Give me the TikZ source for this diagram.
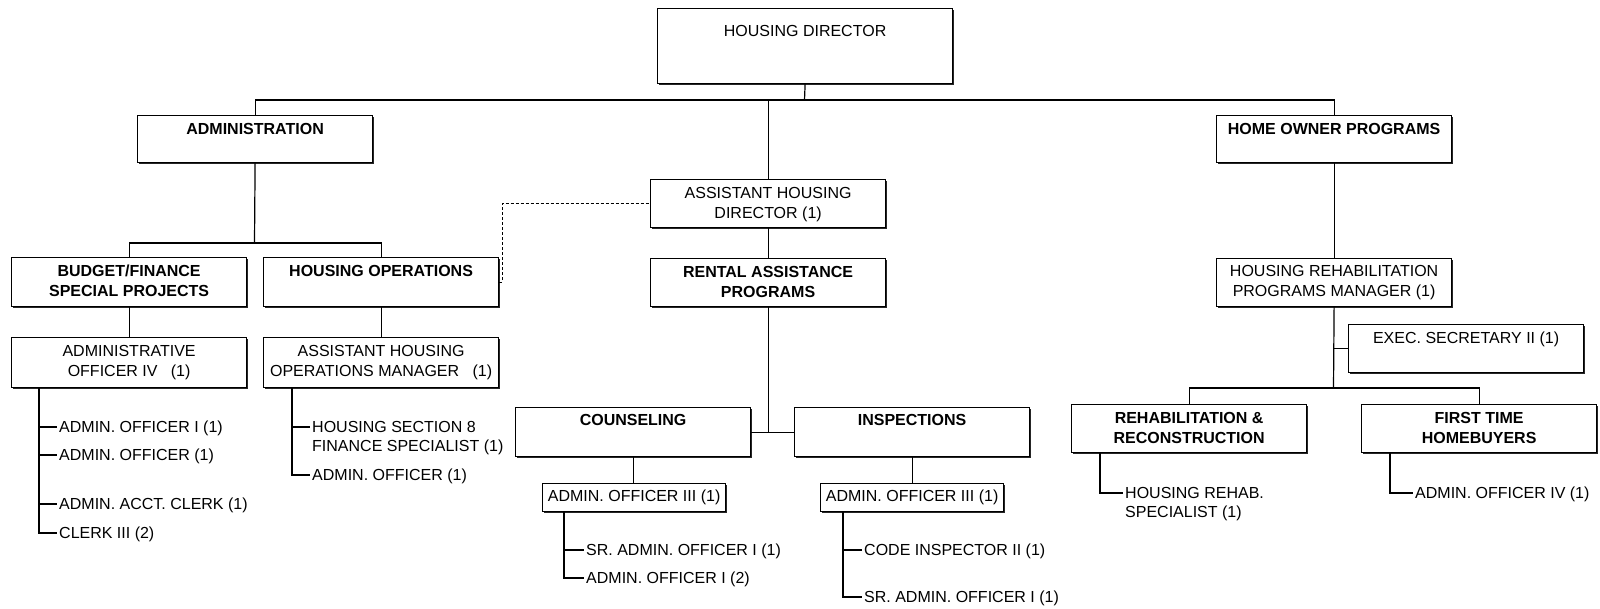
\documentclass[tikz,border=0pt]{standalone}
\usepackage{fontspec}
\setmainfont{Liberation Sans}
\usetikzlibrary{shadows}
\begin{document}
\begin{tikzpicture}[x=1pt,y=-1pt,
  box/.style={draw, line width=1.2pt, fill=white,
    drop shadow={shadow xshift=1.5pt,shadow yshift=-1.5pt,fill=black!85,opacity=1},
    inner xsep=0pt, inner ysep=0pt, text height=18.7pt, align=center,
    anchor=north west, minimum width=235pt, font=\fontsize{16}{20}\selectfont},
  bbox/.style={box, font=\fontsize{16}{20}\selectfont\bfseries},
  item/.style={inner xsep=2pt, inner ysep=0pt, anchor=base west, align=left,
    font=\fontsize{16}{18.5}\selectfont},
  conn/.style={line width=1.2pt},
  dconn/.style={line width=1pt, dash pattern=on 3pt off 2pt}
]
\useasboundingbox (0,0) rectangle (1600,608);

% boxes
\node[box, minimum width=295pt, text height=27.7pt, text depth=47.3pt] (dir) at (657,8) {HOUSING DIRECTOR};
\node[bbox, text depth=28.3pt] (admin) at (137,115) {ADMINISTRATION};
\node[bbox, text depth=28.3pt] (home) at (1216,115) {HOME OWNER PROGRAMS};
\node[box, text height=38.7pt, text depth=9.3pt] (asst) at (650,179) {ASSISTANT HOUSING\\DIRECTOR (1)};
\node[bbox, text height=38.7pt, text depth=10.3pt] (budget) at (11,257) {BUDGET/FINANCE\\SPECIAL PROJECTS};
\node[bbox, text depth=30.3pt] (hops) at (263,257) {HOUSING OPERATIONS};
\node[bbox, text height=38.7pt, text depth=9.3pt] (rental) at (650,258) {RENTAL ASSISTANCE\\PROGRAMS};
\node[box, text height=37.7pt, text depth=10.3pt] (hrpm) at (1216,258) {HOUSING REHABILITATION\\PROGRAMS MANAGER (1)};
\node[box, text height=38.7pt, text depth=11.3pt] (aoiv) at (11,337) {ADMINISTRATIVE\\OFFICER IV~~~(1)};
\node[box, text height=38.7pt, text depth=11.3pt] (ahom) at (263,337) {ASSISTANT HOUSING\\OPERATIONS MANAGER~~~(1)};
\node[box, text depth=29.3pt] (exec) at (1348,324) {EXEC. SECRETARY II (1)};
\node[bbox, text height=17.7pt, text depth=31.3pt] (couns) at (515,407) {COUNSELING};
\node[bbox, text height=17.7pt, text depth=31.3pt] (insp) at (794,407) {INSPECTIONS};
\node[bbox, text height=38.7pt, text depth=9.3pt] (rehab) at (1071,404) {REHABILITATION \&\\RECONSTRUCTION};
\node[bbox, text height=38.7pt, text depth=9.3pt] (ftime) at (1361,404) {FIRST TIME\\HOMEBUYERS};
\node[box, minimum width=183pt, text height=17.7pt, text depth=10.3pt] (aoc) at (542,483) {ADMIN. OFFICER III (1)};
\node[box, minimum width=183pt, text height=17.7pt, text depth=10.3pt] (aoi) at (820,483) {ADMIN. OFFICER III (1)};

% list items
\node[item] (a1) at (57,432.7) {ADMIN. OFFICER I (1)};
\node[item] (a2) at (57,460.7) {ADMIN. OFFICER (1)};
\node[item] (a3) at (57,509.7) {ADMIN. ACCT. CLERK (1)};
\node[item] (a4) at (57,538.7) {CLERK III (2)};
\node[item] (h1) at (310,451.2) {HOUSING SECTION 8\\FINANCE SPECIALIST (1)};
\node[item] (h2) at (310,480.7) {ADMIN. OFFICER (1)};
\node[item] (c1) at (584,555.7) {SR. ADMIN. OFFICER I (1)};
\node[item] (c2) at (584,583.7) {ADMIN. OFFICER I (2)};
\node[item] (i1) at (862,555.7) {CODE INSPECTOR II (1)};
\node[item] (i2) at (862,602.7) {SR. ADMIN. OFFICER I (1)};
\node[item] (r1) at (1123,517.2) {HOUSING REHAB.\\SPECIALIST (1)};
\node[item] (f1) at (1413,498.7) {ADMIN. OFFICER IV (1)};

% connectors
\coordinate (bus1) at (804.5,100);
\draw[conn] (dir.south) -- (bus1);
\draw[conn] (admin.north) |- (bus1) -| (home.north);
\draw[conn] (asst.north) -- (asst.north |- bus1);
\coordinate (bus2) at (254.5,243);
\draw[conn] (admin.south) -- (bus2);
\draw[conn] (budget.north) |- (bus2) -| (hops.north);
\draw[conn] (budget.south) -- (aoiv.north);
\draw[conn] (hops.south) -- (ahom.north);
\draw[dconn] (hops.east) -- ++(3,0) |- (asst.west);
\draw[conn] (asst.south) -- (rental.north);
\draw[conn] (rental.south) -- (rental.south |- couns.east);
\draw[conn] (couns.east) -- (insp.west);
\draw[conn] (couns.south) -- (aoc.north -| couns.south);
\draw[conn] (insp.south) -- (aoi.north);
\draw[conn] (home.south) -- (hrpm.north);
\coordinate (bus3) at (1333.5,388);
\draw[conn] (hrpm.south) -- (bus3);
\draw[conn] (exec.west) -- (exec.west -| bus3);
\draw[conn] (rehab.north) |- (bus3) -| (ftime.north);

% list connectors
\foreach \n in {a1,a2,a3,a4}
  \draw[conn] ([xshift=28pt]aoiv.south west) |- ([yshift=5.7pt]\n.base west);
\draw[conn] ([xshift=29pt]ahom.south west) |- ([yshift=24.2pt]h1.base west);
\draw[conn] ([xshift=29pt]ahom.south west) |- ([yshift=5.7pt]h2.base west);
\foreach \n in {c1,c2}
  \draw[conn] ([xshift=22pt]aoc.south west) |- ([yshift=5.7pt]\n.base west);
\foreach \n in {i1,i2}
  \draw[conn] ([xshift=23pt]aoi.south west) |- ([yshift=5.7pt]\n.base west);
\draw[conn] ([xshift=29pt]rehab.south west) |- ([yshift=24.2pt]r1.base west);
\draw[conn] ([xshift=29pt]ftime.south west) |- ([yshift=5.7pt]f1.base west);
\end{tikzpicture}
\end{document}
